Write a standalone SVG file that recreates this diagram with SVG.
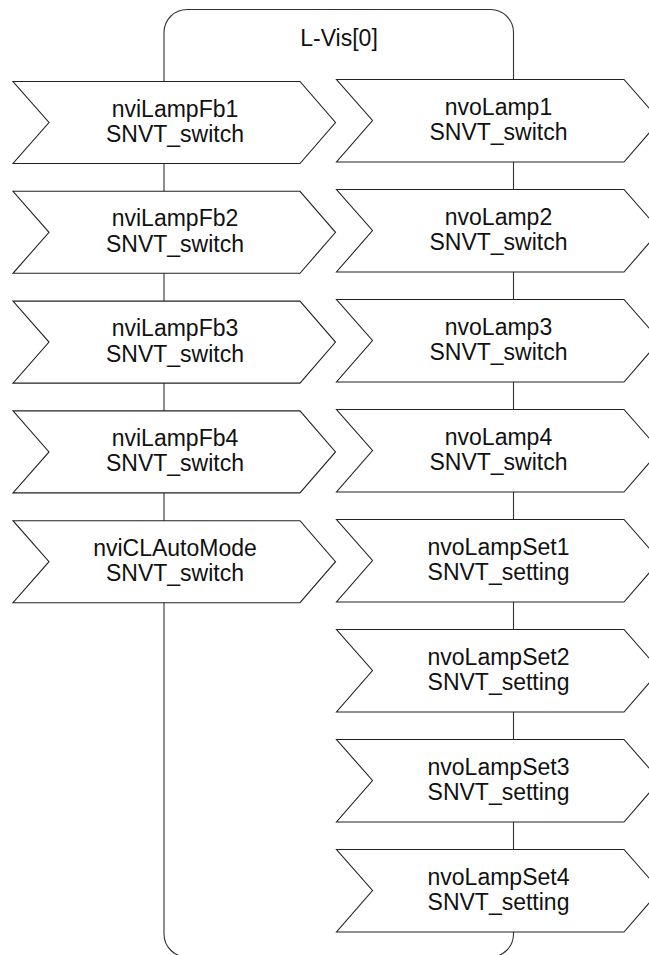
<svg xmlns="http://www.w3.org/2000/svg" width="649" height="955" viewBox="0 0 649 955">
<defs>
<style>
.frame{fill:#fff;stroke:#333;stroke-width:1.1}
.chev{fill:#fff;stroke:#222;stroke-width:1.1;stroke-linejoin:miter}
.t{font-family:"Liberation Sans",Arial,sans-serif;font-size:23px;fill:#111;text-anchor:middle}
</style>
<polygon id="inp" points="0,0 287,0 322.5,41 287,82 0,82 36,41"/>
<polygon id="outp" points="0,0 287.5,0 323.5,41 287.5,82.5 0,82.5 36,41"/>
</defs>
<rect width="649" height="955" fill="#fff"/>
<g id="L-Vis">
<rect class="frame" x="164" y="9.5" width="349.5" height="947.5" rx="23" ry="23"/>
<text class="t" x="339" y="46">L-Vis[0]</text>
</g>
<g id="connectors"></g>
<g id="nviLampFb1" transform="translate(13,81.5)"><use href="#inp" class="chev"/><text class="t" x="162" y="35">nviLampFb1</text><text class="t" x="162" y="60.5">SNVT_switch</text></g>
<g id="nviLampFb2" transform="translate(13,191.3)"><use href="#inp" class="chev"/><text class="t" x="162" y="35">nviLampFb2</text><text class="t" x="162" y="60.5">SNVT_switch</text></g>
<g id="nviLampFb3" transform="translate(13,301.1)"><use href="#inp" class="chev"/><text class="t" x="162" y="35">nviLampFb3</text><text class="t" x="162" y="60.5">SNVT_switch</text></g>
<g id="nviLampFb4" transform="translate(13,410.9)"><use href="#inp" class="chev"/><text class="t" x="162" y="35">nviLampFb4</text><text class="t" x="162" y="60.5">SNVT_switch</text></g>
<g id="nviCLAutoMode" transform="translate(13,520.7)"><use href="#inp" class="chev"/><text class="t" x="162" y="35">nviCLAutoMode</text><text class="t" x="162" y="60.5">SNVT_switch</text></g>
<g id="nvoLamp1" transform="translate(336.5,79.5)"><use href="#outp" class="chev"/><text class="t" x="162" y="35">nvoLamp1</text><text class="t" x="162" y="60.5">SNVT_switch</text></g>
<g id="nvoLamp2" transform="translate(336.5,189.5)"><use href="#outp" class="chev"/><text class="t" x="162" y="35">nvoLamp2</text><text class="t" x="162" y="60.5">SNVT_switch</text></g>
<g id="nvoLamp3" transform="translate(336.5,299.5)"><use href="#outp" class="chev"/><text class="t" x="162" y="35">nvoLamp3</text><text class="t" x="162" y="60.5">SNVT_switch</text></g>
<g id="nvoLamp4" transform="translate(336.5,409.5)"><use href="#outp" class="chev"/><text class="t" x="162" y="35">nvoLamp4</text><text class="t" x="162" y="60.5">SNVT_switch</text></g>
<g id="nvoLampSet1" transform="translate(336.5,519.5)"><use href="#outp" class="chev"/><text class="t" x="162" y="35">nvoLampSet1</text><text class="t" x="162" y="60.5">SNVT_setting</text></g>
<g id="nvoLampSet2" transform="translate(336.5,629.5)"><use href="#outp" class="chev"/><text class="t" x="162" y="35">nvoLampSet2</text><text class="t" x="162" y="60.5">SNVT_setting</text></g>
<g id="nvoLampSet3" transform="translate(336.5,739.5)"><use href="#outp" class="chev"/><text class="t" x="162" y="35">nvoLampSet3</text><text class="t" x="162" y="60.5">SNVT_setting</text></g>
<g id="nvoLampSet4" transform="translate(336.5,849.5)"><use href="#outp" class="chev"/><text class="t" x="162" y="35">nvoLampSet4</text><text class="t" x="162" y="60.5">SNVT_setting</text></g>
</svg>
